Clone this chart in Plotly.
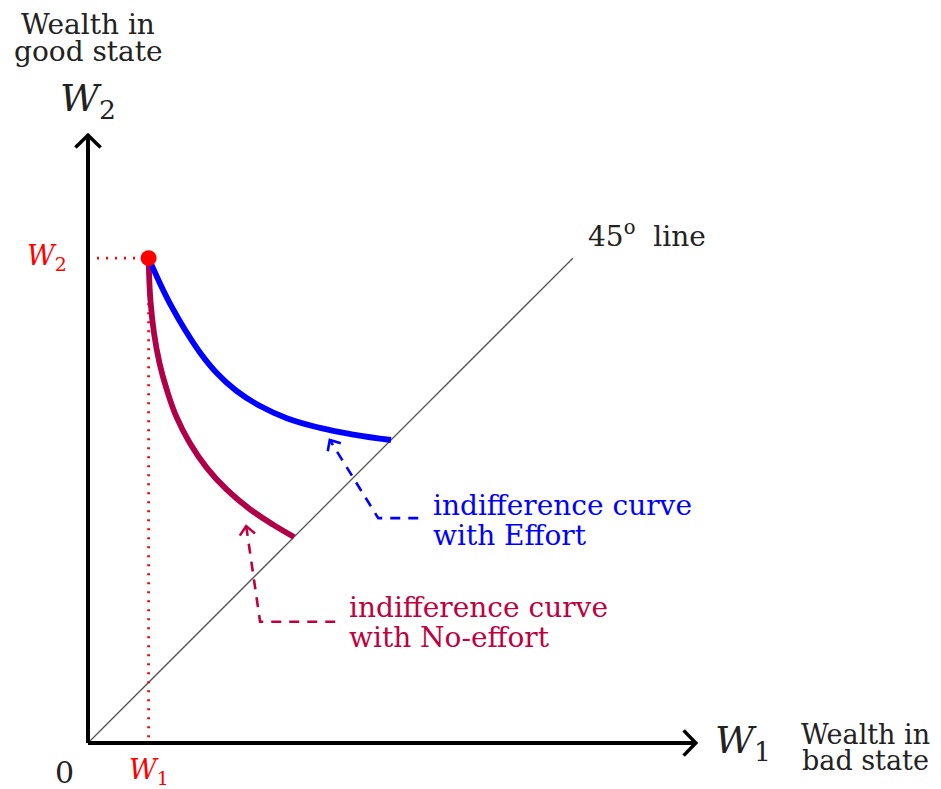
import math
import plotly.graph_objects as go

# ---------------- data (in chart units) ----------------
AXIS_MAX = 10.03          # length of both axes
DIAG_MAX = 8.0            # end of the 45 degree line
W1_VAL = 1.0              # endowment in bad state
W2_VAL = 8.0              # endowment in good state

effort_x = [1.0, 1.19, 1.38, 1.60, 1.85, 2.12, 2.45, 2.84, 3.28, 3.83, 4.38, 5.0]
effort_y = [8.0, 7.58, 7.20, 6.82, 6.44, 6.11, 5.81, 5.56, 5.36, 5.20, 5.09, 5.0]

noeffort_x = [1.0, 1.03, 1.09, 1.18, 1.30, 1.46, 1.68, 1.96, 2.29, 2.67, 3.06, 3.4]
noeffort_y = [8.0, 7.31, 6.76, 6.27, 5.83, 5.38, 4.95, 4.54, 4.18, 3.86, 3.60, 3.4]

effort_ptr_x = [5.45, 4.79, 3.99]
effort_ptr_y = [3.71, 3.71, 5.0]
noeffort_ptr_x = [4.08, 2.84, 2.61]
noeffort_ptr_y = [2.0, 2.0, 3.58]

# ---------------- styles ----------------
BLUE = "#0000FF"
PURPLE = "#BF0040"
CURVE_PURPLE = "#B00048"
RED = "#FF0000"
FONT = "DejaVu Serif"
PX = 60.6                  # pixels per unit
OX, OY = 88, 743           # origin, in window pixels
PAGE_OFF = 8               # default body margin of the html page
WIN_W, WIN_H = 941, 789
W, H = WIN_W - PAGE_OFF, WIN_H - PAGE_OFF


def chevron(x0, y0, x1, y1, length, ang_deg):
    d = math.atan2(y1 - y0, x1 - x0)
    a = math.radians(ang_deg)
    xs = [x1 - length * math.cos(d - a), x1, x1 - length * math.cos(d + a)]
    ys = [y1 - length * math.sin(d - a), y1, y1 - length * math.sin(d + a)]
    return xs, ys


fig = go.Figure()

# 45 degree line
fig.add_trace(go.Scatter(x=[0, DIAG_MAX], y=[0, DIAG_MAX], mode="lines",
                         line=dict(color="#555555", width=1.3), hoverinfo="skip"))

# dotted guides
fig.add_trace(go.Scatter(x=[0, W1_VAL], y=[W2_VAL, W2_VAL], mode="lines",
                         line=dict(color=RED, width=2.8, dash="2px,7px"), hoverinfo="skip"))
fig.add_trace(go.Scatter(x=[W1_VAL, W1_VAL], y=[W2_VAL, 0], mode="lines",
                         line=dict(color=RED, width=2.8, dash="2px,7px"), hoverinfo="skip"))

# axes
fig.add_trace(go.Scatter(x=[0, AXIS_MAX], y=[0, 0], mode="lines",
                         line=dict(color="black", width=4), hoverinfo="skip"))
fig.add_trace(go.Scatter(x=[0, 0], y=[0, AXIS_MAX], mode="lines",
                         line=dict(color="black", width=4), hoverinfo="skip"))
for (x0, y0, x1, y1) in [(0, 0, AXIS_MAX, 0), (0, 0, 0, AXIS_MAX)]:
    cx, cy = chevron(x0, y0, x1, y1, 0.29, 46)
    fig.add_trace(go.Scatter(x=cx, y=cy, mode="lines",
                             line=dict(color="black", width=3.5), hoverinfo="skip"))

# indifference curves
fig.add_trace(go.Scatter(x=noeffort_x, y=noeffort_y, mode="lines",
                         line=dict(color=CURVE_PURPLE, width=5.8, shape="spline", smoothing=1.2),
                         hoverinfo="skip"))
fig.add_trace(go.Scatter(x=effort_x, y=effort_y, mode="lines",
                         line=dict(color=BLUE, width=5.8, shape="spline", smoothing=1.2),
                         hoverinfo="skip"))

# pointer arrows
for px_, py_, col in [(effort_ptr_x, effort_ptr_y, BLUE), (noeffort_ptr_x, noeffort_ptr_y, PURPLE)]:
    fig.add_trace(go.Scatter(x=px_, y=py_, mode="lines",
                             line=dict(color=col, width=2.6, dash="10px,8px"), hoverinfo="skip"))
    cx, cy = chevron(px_[-2], py_[-2], px_[-1], py_[-1], 0.19, 42)
    fig.add_trace(go.Scatter(x=cx, y=cy, mode="lines",
                             line=dict(color=col, width=2.6), hoverinfo="skip"))

# endowment point
fig.add_trace(go.Scatter(x=[W1_VAL], y=[W2_VAL], mode="markers",
                         marker=dict(color=RED, size=16), hoverinfo="skip"))


def u(px):
    return (px - OX) / PX


def v(py):
    return (OY - py) / PX


def label(text, x, y, size, color="#222222", xanchor="center"):
    fig.add_annotation(x=x, y=y, text=text, showarrow=False, xanchor=xanchor,
                       yanchor="middle", font=dict(family=FONT, size=size, color=color))


label("Wealth in", u(88), v(24), 28)
label("good state", u(88), v(51), 28)
label("<i>W</i><sub>2</sub>", u(88), v(100), 38)
label("Wealth in", u(865), v(734), 27)
label("bad state", u(865), v(760), 27)
label("<i>W</i><sub>1</sub>", u(713), v(742), 38, xanchor="left")
label("0", u(64), v(772), 30)
label("<i>W</i><sub>2</sub>", u(47), v(257), 27, color=RED)
label("<i>W</i><sub>1</sub>", u(149), v(771), 27, color=RED)
label("45<sup>o</sup>  line", u(586), v(234), 28, xanchor="left")
label("indifference curve", u(431), v(505), 28, color=BLUE, xanchor="left")
label("with Effort", u(431), v(535), 28, color=BLUE, xanchor="left")
label("indifference curve", u(347), v(607), 28, color=PURPLE, xanchor="left")
label("with No-effort", u(347), v(637), 28, color=PURPLE, xanchor="left")

fig.update_layout(
    width=W, height=H,
    margin=dict(l=0, r=0, t=0, b=0),
    paper_bgcolor="white", plot_bgcolor="white",
    showlegend=False,
    xaxis=dict(range=[u(PAGE_OFF), u(WIN_W)], visible=False, fixedrange=True),
    yaxis=dict(range=[v(WIN_H), v(PAGE_OFF)], visible=False, fixedrange=True),
)

fig.write_html("out.html")
